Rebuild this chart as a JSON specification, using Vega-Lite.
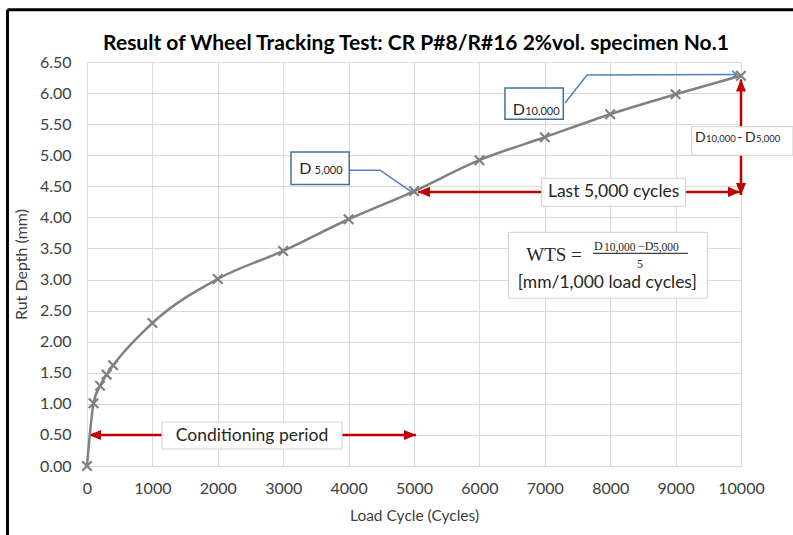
{
  "$schema": "https://vega.github.io/schema/vega-lite/v6.json",
  "width": 654,
  "height": 404,
  "autosize": {"type": "none"},
  "padding": {"left": 87, "top": 62, "right": 52, "bottom": 69},
  "background": "white",
  "config": {"view": {"stroke": null}, "font": "Lato"},
  "datasets": {
    "curve": [
      {"x": 0, "y": 0}, {"x": 100, "y": 1.01}, {"x": 200, "y": 1.29}, {"x": 300, "y": 1.47}, {"x": 400, "y": 1.62},
      {"x": 1000, "y": 2.3}, {"x": 2000, "y": 3.01}, {"x": 3000, "y": 3.46}, {"x": 4000, "y": 3.97}, {"x": 5000, "y": 4.42},
      {"x": 6000, "y": 4.92}, {"x": 7000, "y": 5.29}, {"x": 8000, "y": 5.66}, {"x": 9000, "y": 5.98}, {"x": 10000, "y": 6.28}
    ],
    "titleText": [{"x": 5030, "y": 6.693, "t": "Result of Wheel Tracking Test: CR P#8/R#16 2%vol. specimen No.1"}],
    "frame": [
      {"x": -1216, "x2": -1216, "y": 7.342, "y2": -1.2},
      {"x": -1216, "x2": 10900, "y": 7.342, "y2": 7.342}
    ],
    "redRules": [
      {"x": 30, "x2": 5030, "y": 0.5, "y2": 0.5},
      {"x": 5060, "x2": 9985, "y": 4.41, "y2": 4.41},
      {"x": 10000, "x2": 10000, "y": 4.36, "y2": 6.22}
    ],
    "headLeft": [{"x": 30, "y": 0.5}, {"x": 5060, "y": 4.41}],
    "headRight": [{"x": 5030, "y": 0.5}, {"x": 9985, "y": 4.41}],
    "headUp": [{"x": 10000, "y": 6.22}],
    "headDown": [{"x": 10000, "y": 4.36}],
    "blueLines": [
      {"g": "a", "o": 1, "x": 4010, "y": 4.76}, {"g": "a", "o": 2, "x": 4480, "y": 4.76}, {"g": "a", "o": 3, "x": 4990, "y": 4.39},
      {"g": "b", "o": 1, "x": 7309, "y": 5.84}, {"g": "b", "o": 2, "x": 7645, "y": 6.29}, {"g": "b", "o": 3, "x": 9939, "y": 6.30}
    ],
    "blueHeadA": [{"x": 4990, "y": 4.39}],
    "blueHeadB": [{"x": 9939, "y": 6.30}],
    "grayBoxes": [
      {"x": 1147, "x2": 3899, "y": 0.708, "y2": 0.274},
      {"x": 6952, "x2": 9153, "y": 4.63, "y2": 4.18},
      {"x": 9246, "x2": 10795, "y": 5.46, "y2": 5.0},
      {"x": 6442, "x2": 9485, "y": 3.76, "y2": 2.7}
    ],
    "blueBoxes": [
      {"x": 3119, "x2": 4010, "y": 5.05, "y2": 4.53},
      {"x": 6391, "x2": 7283, "y": 6.08, "y2": 5.58}
    ],
    "centerTexts": [
      {"x": 2523, "y": 0.49, "t": "Conditioning period"},
      {"x": 8053, "y": 4.41, "t": "Last 5,000 cycles"},
      {"x": 7956, "y": 2.95, "t": "[mm/1,000 load cycles]"}
    ],
    "bigD": [
      {"x": 3246, "y": 4.703, "t": "D"},
      {"x": 6509, "y": 5.648, "t": "D"}
    ],
    "smallNums": [
      {"x": 3480, "y": 4.703, "t": "5,000"},
      {"x": 6700, "y": 5.648, "t": "10,000"}
    ],
    "diffBig": [
      {"x": 9297, "y": 5.218, "t": "D"},
      {"x": 9939, "y": 5.218, "t": "-"},
      {"x": 10061, "y": 5.218, "t": "D"}
    ],
    "diffSmall": [
      {"x": 9465, "y": 5.218, "t": "10,000"},
      {"x": 10229, "y": 5.218, "t": "5,000"}
    ],
    "wts": [{"x": 6716, "y": 3.303, "t": "WTS ="}],
    "numBig": [
      {"x": 7752, "y": 3.475, "t": "D"},
      {"x": 8425, "y": 3.475, "t": "−D"}
    ],
    "numSmall": [
      {"x": 7905, "y": 3.46, "t": "10,000"},
      {"x": 8654, "y": 3.46, "t": "5,000"}
    ],
    "denom": [{"x": 8456, "y": 3.18, "t": "5"}],
    "fracBar": [{"x": 7737, "x2": 9190, "y": 3.422, "y2": 3.422}]
  },
  "encoding": {
    "x": {"field": "x", "type": "quantitative",
      "scale": {"domain": [0, 10000], "nice": false, "zero": false},
      "axis": {"title": "Load Cycle (Cycles)", "values": [0, 1000, 2000, 3000, 4000, 5000, 6000, 7000, 8000, 9000, 10000], "format": "d",
        "grid": true, "gridColor": "#D9D9D9", "gridWidth": 1, "domain": false, "ticks": false, "tickSize": 0, "labelFlush": false,
        "labelPadding": 14, "labelFont": "Lato", "labelFontSize": 16, "labelColor": "#404040",
        "titleFont": "Lato", "titleFontSize": 15.5, "titleColor": "#404040", "titleFontWeight": "normal", "titlePadding": 12}},
    "y": {"field": "y", "type": "quantitative",
      "scale": {"domain": [0, 6.5], "nice": false, "zero": false},
      "axis": {"title": "Rut Depth (mm)", "values": [0, 0.5, 1, 1.5, 2, 2.5, 3, 3.5, 4, 4.5, 5, 5.5, 6, 6.5], "format": ".2f",
        "grid": true, "gridColor": "#D9D9D9", "gridWidth": 1, "domain": false, "ticks": false, "tickSize": 0, "labelFlush": false,
        "labelPadding": 16, "labelFont": "Lato", "labelFontSize": 16, "labelColor": "#404040",
        "titleFont": "Lato", "titleFontSize": 16, "titleColor": "#404040", "titleFontWeight": "normal", "titlePadding": 10}}
  },
  "layer": [
    {"data": {"name": "frame"}, "mark": {"type": "rule", "color": "#000000", "strokeWidth": 3, "clip": false},
      "encoding": {"x2": {"field": "x2"}, "y2": {"field": "y2"}}},
    {"data": {"name": "titleText"}, "mark": {"type": "text", "font": "Lato", "fontSize": 21, "fontWeight": "bold", "color": "#000000", "align": "center", "baseline": "alphabetic", "clip": false},
      "encoding": {"text": {"field": "t"}}},
    {"data": {"name": "redRules"}, "mark": {"type": "rule", "color": "#C00000", "strokeWidth": 2.5, "clip": false},
      "encoding": {"x2": {"field": "x2"}, "y2": {"field": "y2"}}},
    {"data": {"name": "headLeft"}, "mark": {"type": "point", "shape": "M0,0L-1,-0.42L-1,0.42Z", "filled": true, "color": "#C00000", "opacity": 1, "size": 576, "angle": 180, "clip": false}},
    {"data": {"name": "headRight"}, "mark": {"type": "point", "shape": "M0,0L-1,-0.42L-1,0.42Z", "filled": true, "color": "#C00000", "opacity": 1, "size": 576, "angle": 0, "clip": false}},
    {"data": {"name": "headUp"}, "mark": {"type": "point", "shape": "M0,0L-1,-0.42L-1,0.42Z", "filled": true, "color": "#C00000", "opacity": 1, "size": 576, "angle": 270, "clip": false}},
    {"data": {"name": "headDown"}, "mark": {"type": "point", "shape": "M0,0L-1,-0.42L-1,0.42Z", "filled": true, "color": "#C00000", "opacity": 1, "size": 576, "angle": 90, "clip": false}},
    {"data": {"name": "blueLines"}, "mark": {"type": "line", "color": "#4F81BD", "strokeWidth": 1.5, "clip": false},
      "encoding": {"detail": {"field": "g"}, "order": {"field": "o", "type": "quantitative"}}},
    {"data": {"name": "blueHeadA"}, "mark": {"type": "point", "shape": "M-1,-0.7L0,0L-1,0.7", "filled": false, "color": "#4F81BD", "strokeWidth": 1.5, "opacity": 1, "size": 100, "angle": 35, "clip": false}},
    {"data": {"name": "blueHeadB"}, "mark": {"type": "point", "shape": "M-1,-0.7L0,0L-1,0.7", "filled": false, "color": "#4F81BD", "strokeWidth": 1.5, "opacity": 1, "size": 100, "angle": 0, "clip": false}},
    {"data": {"name": "curve"}, "mark": {"type": "line", "color": "#808080", "strokeWidth": 2.5, "interpolate": "monotone", "clip": false}},
    {"data": {"name": "curve"}, "mark": {"type": "point", "shape": "M-1,-1L1,1M-1,1L1,-1", "filled": false, "color": "#808080", "strokeWidth": 2.2, "opacity": 1, "size": 90, "clip": false}},
    {"data": {"name": "grayBoxes"}, "mark": {"type": "rect", "fill": "#FFFFFF", "stroke": "#D0D0D0", "strokeWidth": 1, "clip": false},
      "encoding": {"x2": {"field": "x2"}, "y2": {"field": "y2"}}},
    {"data": {"name": "blueBoxes"}, "mark": {"type": "rect", "fill": "#FFFFFF", "stroke": "#41719C", "strokeWidth": 1.5, "clip": false},
      "encoding": {"x2": {"field": "x2"}, "y2": {"field": "y2"}}},
    {"data": {"name": "fracBar"}, "mark": {"type": "rule", "color": "#404040", "strokeWidth": 1.3, "clip": false},
      "encoding": {"x2": {"field": "x2"}, "y2": {"field": "y2"}}},
    {"data": {"name": "centerTexts"}, "mark": {"type": "text", "font": "Lato", "fontSize": 17.5, "color": "#262626", "align": "center", "baseline": "middle", "clip": false},
      "encoding": {"text": {"field": "t"}}},
    {"data": {"name": "bigD"}, "mark": {"type": "text", "font": "Lato", "fontSize": 16, "color": "#262626", "align": "left", "baseline": "alphabetic", "clip": false},
      "encoding": {"text": {"field": "t"}}},
    {"data": {"name": "smallNums"}, "mark": {"type": "text", "font": "Lato", "fontSize": 11, "color": "#262626", "align": "left", "baseline": "alphabetic", "clip": false},
      "encoding": {"text": {"field": "t"}}},
    {"data": {"name": "diffBig"}, "mark": {"type": "text", "font": "Lato", "fontSize": 14, "color": "#262626", "align": "left", "baseline": "alphabetic", "clip": false},
      "encoding": {"text": {"field": "t"}}},
    {"data": {"name": "diffSmall"}, "mark": {"type": "text", "font": "Lato", "fontSize": 9.5, "color": "#262626", "align": "left", "baseline": "alphabetic", "clip": false},
      "encoding": {"text": {"field": "t"}}},
    {"data": {"name": "wts"}, "mark": {"type": "text", "font": "Liberation Serif", "fontSize": 19, "color": "#262626", "align": "left", "baseline": "alphabetic", "clip": false},
      "encoding": {"text": {"field": "t"}}},
    {"data": {"name": "numBig"}, "mark": {"type": "text", "font": "Liberation Serif", "fontSize": 12, "color": "#262626", "align": "left", "baseline": "alphabetic", "clip": false},
      "encoding": {"text": {"field": "t"}}},
    {"data": {"name": "numSmall"}, "mark": {"type": "text", "font": "Liberation Serif", "fontSize": 11.5, "color": "#262626", "align": "left", "baseline": "alphabetic", "clip": false},
      "encoding": {"text": {"field": "t"}}},
    {"data": {"name": "denom"}, "mark": {"type": "text", "font": "Liberation Serif", "fontSize": 12, "color": "#262626", "align": "center", "baseline": "alphabetic", "clip": false},
      "encoding": {"text": {"field": "t"}}}
  ]
}
